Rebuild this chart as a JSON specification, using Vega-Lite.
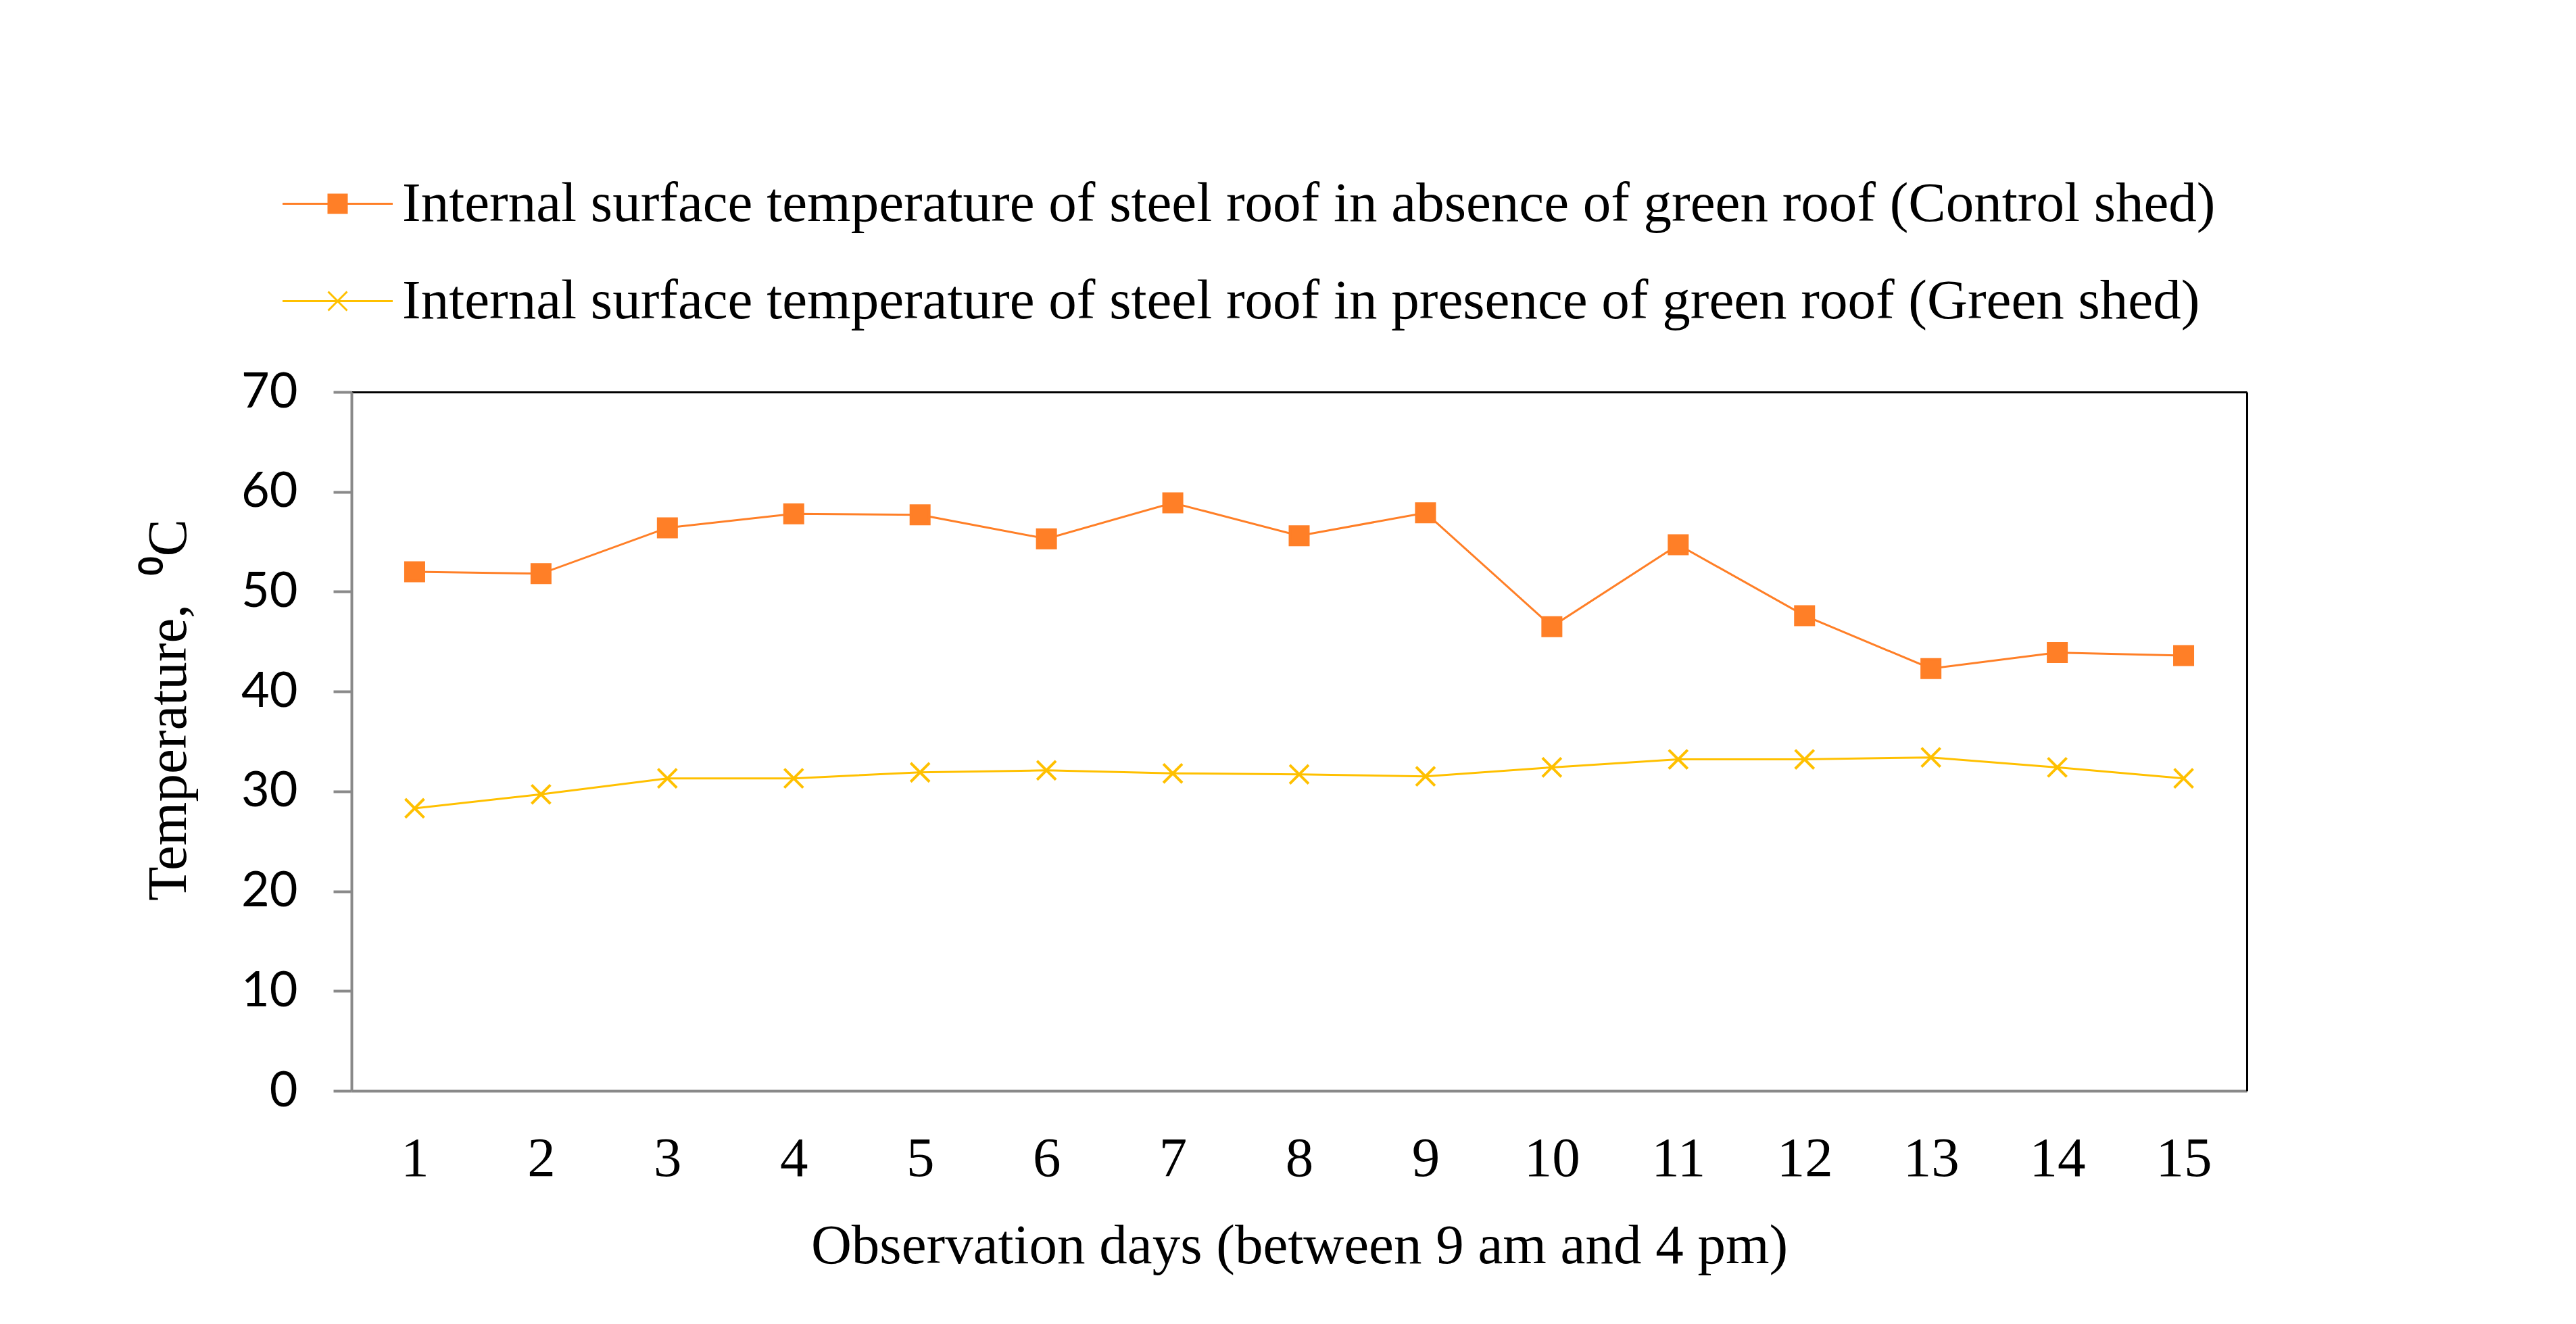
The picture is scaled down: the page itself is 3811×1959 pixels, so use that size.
{
  "$schema": "https://vega.github.io/schema/vega-lite/v6.json",
  "width": 2804,
  "height": 1034,
  "autosize": {"type": "none"},
  "padding": {"left": 520, "top": 580, "right": 487, "bottom": 345},
  "background": "white",
  "data": {
    "values": [
      {"day": 1, "series": "Internal surface temperature of steel roof in absence of green roof (Control shed)", "temp": 52.0},
      {"day": 2, "series": "Internal surface temperature of steel roof in absence of green roof (Control shed)", "temp": 51.8},
      {"day": 3, "series": "Internal surface temperature of steel roof in absence of green roof (Control shed)", "temp": 56.4},
      {"day": 4, "series": "Internal surface temperature of steel roof in absence of green roof (Control shed)", "temp": 57.8},
      {"day": 5, "series": "Internal surface temperature of steel roof in absence of green roof (Control shed)", "temp": 57.7},
      {"day": 6, "series": "Internal surface temperature of steel roof in absence of green roof (Control shed)", "temp": 55.3},
      {"day": 7, "series": "Internal surface temperature of steel roof in absence of green roof (Control shed)", "temp": 58.9},
      {"day": 8, "series": "Internal surface temperature of steel roof in absence of green roof (Control shed)", "temp": 55.6},
      {"day": 9, "series": "Internal surface temperature of steel roof in absence of green roof (Control shed)", "temp": 57.9},
      {"day": 10, "series": "Internal surface temperature of steel roof in absence of green roof (Control shed)", "temp": 46.5},
      {"day": 11, "series": "Internal surface temperature of steel roof in absence of green roof (Control shed)", "temp": 54.7},
      {"day": 12, "series": "Internal surface temperature of steel roof in absence of green roof (Control shed)", "temp": 47.6},
      {"day": 13, "series": "Internal surface temperature of steel roof in absence of green roof (Control shed)", "temp": 42.3},
      {"day": 14, "series": "Internal surface temperature of steel roof in absence of green roof (Control shed)", "temp": 43.9},
      {"day": 15, "series": "Internal surface temperature of steel roof in absence of green roof (Control shed)", "temp": 43.6},
      {"day": 1, "series": "Internal surface temperature of steel roof in presence of green roof (Green shed)", "temp": 28.3},
      {"day": 2, "series": "Internal surface temperature of steel roof in presence of green roof (Green shed)", "temp": 29.7},
      {"day": 3, "series": "Internal surface temperature of steel roof in presence of green roof (Green shed)", "temp": 31.3},
      {"day": 4, "series": "Internal surface temperature of steel roof in presence of green roof (Green shed)", "temp": 31.3},
      {"day": 5, "series": "Internal surface temperature of steel roof in presence of green roof (Green shed)", "temp": 31.9},
      {"day": 6, "series": "Internal surface temperature of steel roof in presence of green roof (Green shed)", "temp": 32.1},
      {"day": 7, "series": "Internal surface temperature of steel roof in presence of green roof (Green shed)", "temp": 31.8},
      {"day": 8, "series": "Internal surface temperature of steel roof in presence of green roof (Green shed)", "temp": 31.7},
      {"day": 9, "series": "Internal surface temperature of steel roof in presence of green roof (Green shed)", "temp": 31.5},
      {"day": 10, "series": "Internal surface temperature of steel roof in presence of green roof (Green shed)", "temp": 32.4},
      {"day": 11, "series": "Internal surface temperature of steel roof in presence of green roof (Green shed)", "temp": 33.2},
      {"day": 12, "series": "Internal surface temperature of steel roof in presence of green roof (Green shed)", "temp": 33.2},
      {"day": 13, "series": "Internal surface temperature of steel roof in presence of green roof (Green shed)", "temp": 33.4},
      {"day": 14, "series": "Internal surface temperature of steel roof in presence of green roof (Green shed)", "temp": 32.4},
      {"day": 15, "series": "Internal surface temperature of steel roof in presence of green roof (Green shed)", "temp": 31.3}
    ]
  },
  "layer": [
    {
      "mark": {"type": "line", "strokeWidth": 3},
      "encoding": {
        "x": {
          "field": "day", "type": "ordinal",
          "scale": {"type": "point", "padding": 0.5},
          "axis": {
            "orient": "bottom", "labelAngle": 0, "ticks": false, "tickSize": 0,
            "labelPadding": 59, "labelFont": "Liberation Serif", "labelFontSize": 83, "labelColor": "#000000",
            "domainColor": "#898989", "domainWidth": 4,
            "title": "Observation days (between 9 am and 4 pm)",
            "titleFont": "Liberation Serif", "titleFontSize": 83, "titleFontWeight": "normal", "titleColor": "#000000",
            "titleBaseline": "alphabetic", "titleY": 254
          }
        },
        "y": {
          "field": "temp", "type": "quantitative",
          "scale": {"domain": [0, 70], "nice": false, "zero": true},
          "axis": {
            "orient": "left", "values": [0, 10, 20, 30, 40, 50, 60, 70], "grid": false,
            "tickSize": 27, "tickWidth": 4, "tickColor": "#898989",
            "domainColor": "#898989", "domainWidth": 4,
            "labelPadding": 53, "labelFont": "Lato", "labelFontSize": 72, "labelColor": "#000000",
            "title": "Temperature, \u00a0⁰C",
            "titleFont": "Liberation Serif", "titleFontSize": 83, "titleFontWeight": "normal", "titleColor": "#000000",
            "titleAngle": -90, "titleBaseline": "alphabetic", "titleAlign": "center", "titleX": -246, "titleY": 470
          }
        },
        "color": {
          "field": "series", "type": "nominal",
          "scale": {
            "domain": [
              "Internal surface temperature of steel roof in absence of green roof (Control shed)",
              "Internal surface temperature of steel roof in presence of green roof (Green shed)"
            ],
            "range": ["#FF7F27", "#FFC000"]
          },
          "legend": {
            "title": null, "orient": "none", "legendX": -72, "legendY": -330, "direction": "vertical",
            "padding": 0, "symbolSize": 10000, "symbolStrokeWidth": 3, "symbolOpacity": 1, "rowPadding": 50,
            "labelFont": "Liberation Serif", "labelFontSize": 83, "labelColor": "#000000",
            "labelLimit": 5000, "labelOffset": 44,
            "encode": {
              "symbols": {
                "update": {
                  "opacity": {"value": 1}
                }
              }
            }
          }
        }
      }
    },
    {
      "encoding": {
        "x": {
          "field": "day", "type": "ordinal",
          "scale": {"type": "point", "padding": 0.5},
          "axis": {"orient": "top", "labels": false, "ticks": false, "title": null, "domainColor": "#000000", "domainWidth": 3}
        },
        "y": {
          "field": "temp", "type": "quantitative",
          "scale": {"domain": [0, 70], "nice": false, "zero": true},
          "axis": {"orient": "right", "labels": false, "ticks": false, "grid": false, "title": null, "domainColor": "#000000", "domainWidth": 3}
        }
      },
      "layer": [
        {
          "transform": [{"filter": "indexof(datum.series, 'Control shed') >= 0"}],
          "mark": {"type": "point", "shape": "M-0.9,-0.9H0.9V0.9H-0.9Z", "filled": true, "fill": "#FF7F27", "stroke": "#FF7F27", "size": 900, "strokeWidth": 4, "opacity": 1}
        },
        {
          "transform": [{"filter": "indexof(datum.series, 'Green shed') >= 0"}],
          "mark": {"type": "point", "shape": "M-0.93,-0.93L0.93,0.93M-0.93,0.93L0.93,-0.93", "filled": false, "stroke": "#FFC000", "size": 900, "strokeWidth": 4, "opacity": 1}
        },
        {
          "mark": {"type": "point", "filled": true, "size": 900, "strokeWidth": 3, "opacity": 0},
          "encoding": {
            "shape": {
              "field": "series", "type": "nominal",
              "scale": {
                "domain": [
                  "Internal surface temperature of steel roof in absence of green roof (Control shed)",
                  "Internal surface temperature of steel roof in presence of green roof (Green shed)"
                ],
                "range": ["M-1.63,0H1.63M-0.27,-0.27H0.27V0.27H-0.27Z", "M-1.63,0H1.63M-0.28,-0.28L0.28,0.28M-0.28,0.28L0.28,-0.28"]
              },
              "legend": null
            },
            "fill": {
              "field": "series", "type": "nominal",
              "scale": {
                "domain": [
                  "Internal surface temperature of steel roof in absence of green roof (Control shed)",
                  "Internal surface temperature of steel roof in presence of green roof (Green shed)"
                ],
                "range": ["#FF7F27", "#FFC000"]
              },
              "legend": null
            },
            "stroke": {
              "field": "series", "type": "nominal",
              "scale": {
                "domain": [
                  "Internal surface temperature of steel roof in absence of green roof (Control shed)",
                  "Internal surface temperature of steel roof in presence of green roof (Green shed)"
                ],
                "range": ["#FF7F27", "#FFC000"]
              },
              "legend": null
            }
          }
        }
      ]
    }
  ],
  "resolve": {"axis": {"x": "independent", "y": "independent"}},
  "config": {
    "view": {"stroke": null},
    "axis": {"grid": false}
  }
}
